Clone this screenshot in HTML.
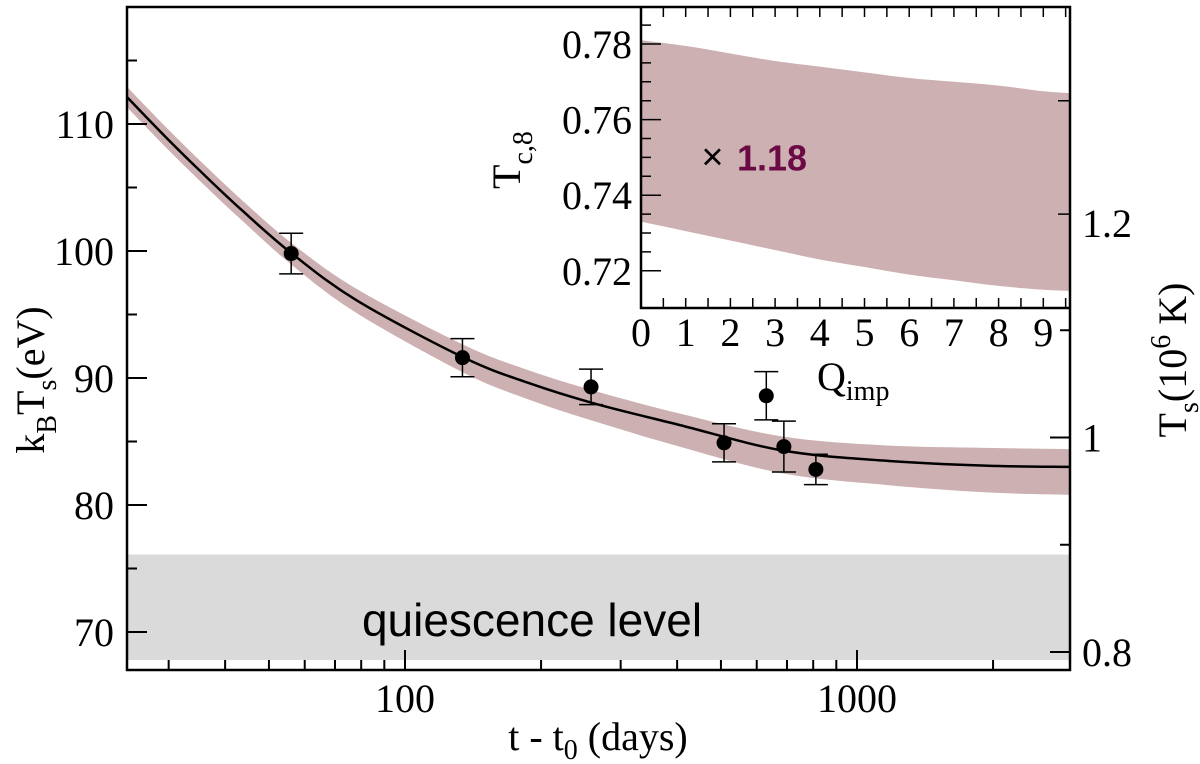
<!DOCTYPE html>
<html><head><meta charset="utf-8"><style>
body{margin:0;background:#fff}
svg{display:block;font-family:"Liberation Serif",serif}
</style></head><body>
<svg id="c" width="1200" height="764" viewBox="0 0 1200 764"></svg>
<script>
// main chart data
const obsDays=[56,134,258,508,630,689,811];
const obsKT=[99.8,91.6,89.3,84.9,88.6,84.6,82.8];
const obsErr=[1.6,1.5,1.4,1.5,1.9,2.0,1.2];
const curveDays=[24.3,29.5,35.7,43.6,56.2,78.3,135,188,262,405,682,1141,1917,2960];
const curveKT=[112.1,109.0,106.1,103.2,99.8,96.1,91.6,89.6,88.0,86.3,84.3,83.5,83.1,83.0];
const bandUpper=[112.9,109.8,106.9,104.0,100.6,97.0,92.6,90.6,89.0,87.2,85.4,84.7,84.5,84.4];
const bandLower=[111.3,108.2,105.3,102.4,98.9,95.1,90.4,88.3,86.6,84.6,82.5,81.6,81.0,80.8];
const quiescence=[67.8,76.1];
const yTicks=[70,80,90,100,110];
const xTicks=[100,1000];
const rightTicks=[0.8,1.0,1.2];
// inset data
const insetQ=[0,1,2,3,4,5,6,7,8,9,9.6];
const insetUpper=[0.781,0.7795,0.7775,0.7755,0.774,0.7725,0.771,0.770,0.769,0.7675,0.767];
const insetLower=[0.733,0.7305,0.728,0.7255,0.723,0.721,0.719,0.7175,0.716,0.715,0.7147];
const insetPoint=[1.6,0.75];
const insetYTicks=[0.72,0.74,0.76,0.78];
const insetXTicks=[0,1,2,3,4,5,6,7,8,9];

const L=127,R=1070,T=7,B=670;
const X=d=>405+(Math.log10(d)-2)*452;
const Y=v=>505-(v-80)*12.7;
const YR=v=>652-(v-0.8)*1072.5;
const IL=641,IB=308;
const IX=q=>IL+q*44.7;
const IY=v=>44+(0.78-v)*3780;
const NS="http://www.w3.org/2000/svg";
const svg=document.getElementById('c');
function el(tag,attrs,parent){const e=document.createElementNS(NS,tag);for(const k in attrs)e.setAttribute(k,attrs[k]);(parent||svg).appendChild(e);return e;}
function txt(s,x,y,size,anchor,parent){const t=el('text',{x:x,y:y,'font-size':size,'text-anchor':anchor||'middle'},parent);t.textContent=s;return t;}
function smooth(pts,move){
 let d=(move?'M':'L')+pts[0][0]+','+pts[0][1];
 for(let i=0;i<pts.length-1;i++){
  const p0=pts[i-1]||pts[i],p1=pts[i],p2=pts[i+1],p3=pts[i+2]||p2;
  const c1=[p1[0]+(p2[0]-p0[0])/6,p1[1]+(p2[1]-p0[1])/6];
  const c2=[p2[0]-(p3[0]-p1[0])/6,p2[1]-(p3[1]-p1[1])/6];
  d+=`C${c1[0]},${c1[1]} ${c2[0]},${c2[1]} ${p2[0]},${p2[1]}`;
 }
 return d;
}

let e;
e=el('rect',{x:L,y:Y(quiescence[1]),width:R-L,height:Y(quiescence[0])-Y(quiescence[1]),fill:'#dadada'});


e=el('text',{x:532,y:636,'font-size':46,'text-anchor':'middle','font-family':'Liberation Sans, sans-serif'});
e.textContent='quiescence level';


const up=curveDays.map((d,i)=>[X(d),Y(bandUpper[i])]);
const lo=curveDays.map((d,i)=>[X(d),Y(bandLower[i])]).reverse();
e=el('path',{d:smooth(up,true)+smooth(lo,false)+'Z',fill:'#cdb0b1'});


e=el('path',{d:smooth(curveDays.map((d,i)=>[X(d),Y(curveKT[i])]),true),fill:'none',stroke:'#000','stroke-width':2.5});


obsDays.forEach((d,i)=>{
 const g=el('g',{});
 
 
 const x=X(d),y1=Y(obsKT[i]+obsErr[i]),y2=Y(obsKT[i]-obsErr[i]);
 el('path',{d:`M${x},${y1}V${y2}M${x-12},${y1}H${x+12}M${x-12},${y2}H${x+12}`,stroke:'#000','stroke-width':1.5,fill:'none'},g);
 el('circle',{cx:x,cy:Y(obsKT[i]),r:7.5,fill:'#000'},g);
});
let tp='';
for(let v=70;v<=115;v+=5){const big=v%10===0;tp+=`M${L},${Y(v)}h${big?20:10}`;}
for(let k=1;k<=9;k++){[10,100,1000].forEach(b=>{const d=k*b;if(d<24.3||d>2960)return;tp+=`M${X(d)},${B}v${-(k===1?20:10)}`;});}
for(let v=0.8;v<=1.31;v+=0.1){const big=Math.round(v*10)%2===0;tp+=`M${R},${YR(v)}h${big?-20:-10}`;}
e=el('path',{d:tp,stroke:'#000','stroke-width':2,fill:'none'});


yTicks.forEach(v=>{e=txt(String(v),114,Y(v)+14,40,'end');});
xTicks.forEach(v=>{e=txt(String(v),X(v),712,40);});
rightTicks.forEach(v=>{e=txt(v===1?'1':String(v),1082,YR(v)+14,40,'start');});

const ig=el('g',{});


el('rect',{x:IL,y:T,width:R-IL,height:IB-T,fill:'#fff'},ig);
const iu=insetQ.map((q,i)=>[IX(q),IY(insetUpper[i])]);
const il=insetQ.map((q,i)=>[IX(q),IY(insetLower[i])]).reverse();
e=el('path',{d:smooth(iu,true)+smooth(il,false)+'Z',fill:'#cdb0b1'},ig);


tp='';
for(let q=0.5;q<9.7;q+=0.5){tp+=`M${IX(q)},${T}v10M${IX(q)},${IB}v-10`;}
for(let v=0.72;v<=0.785;v+=0.005){const big=Math.abs(v*100-Math.round(v*100))<0.01&&Math.round(v*100)%2===0;tp+=`M${IL},${IY(v)}h${big?20:10}`;}
tp+=`M${R},${IY(0.765)}h-12M${R},${IY(0.735)}h-12`;
el('path',{d:tp,stroke:'#000','stroke-width':1.5,fill:'none'},ig);
el('path',{d:`M${IL},${T}V${IB}H${R}`,stroke:'#000','stroke-width':2.5,fill:'none'},ig);
insetYTicks.forEach(v=>{e=txt(v.toFixed(2),632,IY(v)+14,40,'end',ig);});
insetXTicks.forEach(v=>{e=txt(String(v),IX(v),346,40,'middle',ig);});
e=txt('×',IX(insetPoint[0]),IY(insetPoint[1])+12,38,'middle',ig);
e.setAttribute('font-family','Liberation Sans, sans-serif');


e=txt('1.18',737,IY(insetPoint[1])+13,36,'start',ig);
e.setAttribute('font-family','Liberation Sans, sans-serif');e.setAttribute('font-weight','bold');e.setAttribute('fill','#6b0a45');



e=el('rect',{x:L,y:T,width:R-L,height:B-T,fill:'none',stroke:'#000','stroke-width':2.5});


</script>
<svg width="1200" height="764" style="position:absolute;left:0;top:0" font-family="Liberation Serif,serif">
 <text x="598" y="750" font-size="40" text-anchor="middle">t - t<tspan font-size="28" dy="9">0</tspan><tspan dy="-9"> (days)</tspan></text>
 <text transform="translate(44,380) rotate(-90)" font-size="40" text-anchor="middle">k<tspan font-size="28" dy="12">B</tspan><tspan dy="-12">T</tspan><tspan font-size="28" dy="12">s</tspan><tspan dy="-12">(eV)</tspan></text>
 <text transform="translate(1186,360) rotate(-90)" font-size="40" text-anchor="middle">T<tspan font-size="28" dy="12">s</tspan><tspan dy="-12">(10</tspan><tspan font-size="28" dy="-16">6</tspan><tspan dy="16"> K)</tspan></text>
 <text transform="translate(520,160) rotate(-90)" font-size="40" text-anchor="middle">T<tspan font-size="28" dy="12">c,8</tspan></text>
 <text x="817" y="390" font-size="40" text-anchor="start">Q<tspan font-size="28" dy="10">imp</tspan></text>
</svg>
</body></html>
